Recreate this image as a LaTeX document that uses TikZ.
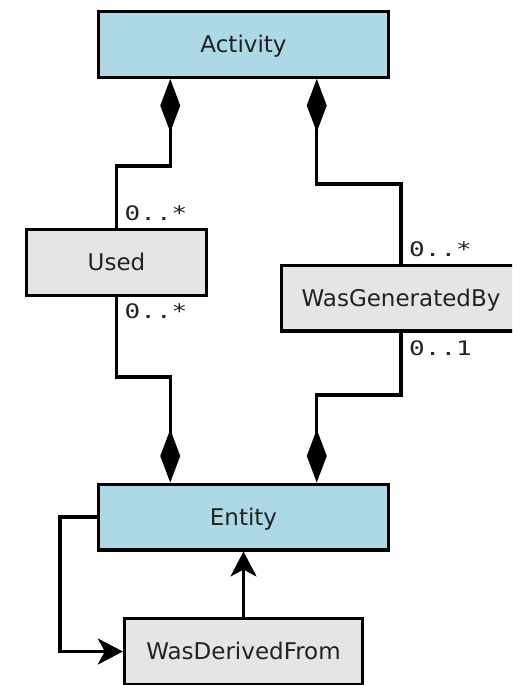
\documentclass[tikz,border=0pt]{standalone}
\usepackage{fontspec}
\setmainfont{DejaVu Sans}
\newfontfamily\multfont[FakeStretch=1.3]{DejaVu Sans Mono}
\usetikzlibrary{arrows.meta,calc}

\definecolor{entblue}{RGB}{173,216,230}
\definecolor{relgray}{RGB}{229,229,229}
\definecolor{inkgray}{RGB}{34,34,34}

\tikzset{
  cls/.style={draw=black, line width=3.4pt, minimum height=65.6pt, inner sep=0pt,
    text height=16.8pt, text depth=0pt, text=inkgray,
    font=\fontsize{23}{27}\selectfont},
  entitybox/.style={cls, fill=entblue},
  relbox/.style={cls, fill=relgray},
  link/.style={line width=3.2pt, draw=black},
  comp/.tip={Diamond[length=53pt, width=20pt]},
  gen/.tip={Stealth[length=25pt, width=26pt, inset=7pt]},
  mult/.style={inner sep=0pt, text=inkgray, font=\multfont\fontsize{20}{24}\selectfont}
}

\begin{document}
\begin{tikzpicture}[x=1pt, y=-1pt]
  \clip (0,0) rectangle (512,685);

  % classes
  \node[entitybox, minimum width=289.6pt] (act)  at (243.5,44.5)  {Activity};
  \node[relbox,    minimum width=179.6pt] (used) at (116.5,262.5) {Used};
  \node[relbox,    minimum width=238.6pt] (wgb)  at (401,298)     {WasGeneratedBy};
  \node[entitybox, minimum width=289.6pt] (ent)  at (243.5,517)   {Entity};
  \node[relbox,    minimum width=238pt]   (wdf)  at (243.5,651.5) {WasDerivedFrom};

  % attachment points and routing levels
  \coordinate (a1) at ($(act.south west)!0.25!(act.south east)$);
  \coordinate (a2) at ($(act.south west)!0.75!(act.south east)$);
  \coordinate (e1) at ($(ent.north west)!0.25!(ent.north east)$);
  \coordinate (e2) at ($(ent.north west)!0.75!(ent.north east)$);
  \coordinate (m1) at (0,166);
  \coordinate (m2) at (0,184);
  \coordinate (m3) at (0,377);
  \coordinate (m4) at (0,395);
  \coordinate (m5) at (60,0);

  % compositions
  \draw[link, {comp}-] (a1) -- (a1 |- m1) -| (used.north);
  \draw[link, {comp}-] (a2) -- (a2 |- m2) -| (wgb.north);
  \draw[link, -{comp}] (used.south) -- (used.south |- m3) -| (e1);
  \draw[link, -{comp}] (wgb.south) -- (wgb.south |- m4) -| (e2);

  % derivation
  \draw[link, -{gen}] (ent.west) -- (ent.west -| m5) |- (wdf.west);
  \draw[link, -{gen}] (wdf.north) -- (ent.south);

  % multiplicities
  \node[mult, anchor=base west] (u1) at ([xshift=8pt, yshift=8pt]used.north)  {0..*};
  \node[mult, anchor=base west] (u2) at ([xshift=8pt, yshift=-21pt]used.south) {0..*};
  \node[mult, anchor=base west] (g1) at ([xshift=8pt, yshift=7pt]wgb.north)    {0..*};
  \node[mult, anchor=base west] (g2) at ([xshift=8pt, yshift=-23pt]wgb.south)  {0..1};
\end{tikzpicture}
\end{document}
